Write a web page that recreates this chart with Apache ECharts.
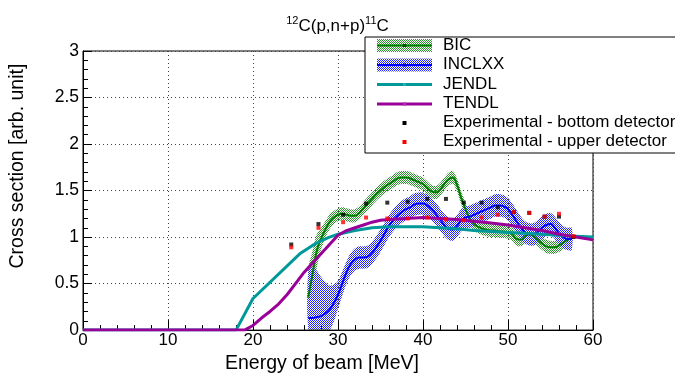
<!DOCTYPE html>
<html>
<head>
<meta charset="utf-8">
<script src="https://cdn.jsdelivr.net/npm/echarts@6/dist/echarts.min.js"></script>
<style>html,body{margin:0;padding:0;background:#fff;}#c{width:675px;height:379px;}</style>
</head>
<body>
<div id="c"></div>
<script>
// ---- data ----
var modelE = [26.5,27,27.5,28,28.5,29,29.5,30,30.5,31,31.5,32,32.5,33,33.5,34,34.5,35,35.5,36,36.5,37,37.5,38,38.5,39,39.5,40,40.5,41,41.5,42,42.5,43,43.5,44,44.5,45,45.5,46,46.5,47,47.5,48,48.5,49,49.5,50,50.5,51,51.5,52,52.5,53,53.5,54,54.5,55,55.5,56,56.5,57,57.5];
var bicV = [0.35,0.6,0.85,0.98,1.08,1.16,1.21,1.24,1.25,1.24,1.23,1.23,1.26,1.31,1.36,1.41,1.46,1.50,1.54,1.57,1.60,1.63,1.64,1.64,1.63,1.61,1.59,1.57,1.53,1.49,1.48,1.51,1.57,1.62,1.64,1.56,1.42,1.30,1.20,1.14,1.11,1.09,1.08,1.07,1.07,1.06,1.06,1.05,1.03,0.98,0.97,1.01,1.03,1.01,0.97,0.93,0.90,0.89,0.89,0.91,0.94,0.97,0.99];
var bicErr = [0.3,0.25,0.18,0.12,0.09,0.08,0.07,0.07,0.07,0.07,0.07,0.07,0.07,0.07,0.07,0.07,0.07,0.07,0.07,0.07,0.07,0.07,0.07,0.07,0.07,0.07,0.07,0.07,0.07,0.07,0.07,0.07,0.07,0.07,0.07,0.07,0.07,0.07,0.07,0.07,0.07,0.07,0.07,0.07,0.07,0.07,0.07,0.07,0.07,0.07,0.07,0.07,0.07,0.07,0.07,0.07,0.07,0.07,0.07,0.07,0.07,0.07,0.07];
var inclV = [0.13,0.13,0.14,0.15,0.18,0.22,0.29,0.38,0.50,0.62,0.71,0.76,0.78,0.78,0.79,0.83,0.89,0.96,1.04,1.12,1.18,1.23,1.27,1.30,1.32,1.35,1.36,1.36,1.34,1.30,1.25,1.19,1.13,1.09,1.08,1.12,1.18,1.21,1.22,1.24,1.26,1.28,1.30,1.32,1.34,1.34,1.33,1.30,1.24,1.17,1.10,1.05,1.03,1.03,1.06,1.10,1.13,1.14,1.10,1.04,1.00,0.98,0.98];
var inclErr = [0.5,0.55,0.5,0.42,0.34,0.26,0.2,0.15,0.13,0.12,0.12,0.12,0.12,0.12,0.12,0.12,0.12,0.12,0.12,0.12,0.12,0.12,0.12,0.12,0.12,0.12,0.12,0.12,0.12,0.12,0.12,0.12,0.12,0.12,0.12,0.12,0.12,0.12,0.12,0.12,0.12,0.12,0.12,0.12,0.12,0.12,0.12,0.12,0.12,0.12,0.12,0.12,0.12,0.12,0.12,0.12,0.12,0.12,0.12,0.12,0.12,0.12,0.12];
var jendlE = [0,18,20,25.5,26,27,28,29,30,32,34,36,38,40,42,44,46,48,50,52,54,56,58,60];
var jendlV = [0,0,0.34,0.82,0.85,0.91,0.96,1.0,1.03,1.07,1.10,1.11,1.11,1.11,1.10,1.09,1.07,1.06,1.05,1.04,1.03,1.02,1.01,1.0];
var tendlE = [0,19,20,21,22,23,24,25,26,27,28,29,30,31,32,33,34,35,36,38,40,42,44,46,48,50,52,54,56,58,60];
var tendlV = [0,0,0.05,0.13,0.2,0.28,0.38,0.5,0.62,0.72,0.82,0.92,1.02,1.07,1.1,1.13,1.16,1.18,1.19,1.2,1.21,1.2,1.19,1.17,1.15,1.13,1.1,1.07,1.03,1.0,0.97];
var expE = [24.5,27.7,30.6,33.3,35.8,38.2,40.5,42.7,44.8,46.9,48.8,50.7,52.5,54.3,56.0,57.7];
var expBottom = [0.92,1.14,1.24,1.36,1.37,1.38,1.41,1.41,1.37,1.37,1.32,1.27,1.26,1.22,1.22,1.00];
var expUpper = [0.89,1.10,1.16,1.21,1.20,1.20,1.21,1.19,1.18,1.21,1.24,1.27,1.26,1.22,1.25,1.01];
var xTicks = [0,10,20,30,40,50,60];
var yTicks = [0,0.5,1,1.5,2,2.5,3];
var legendNames = ['BIC','INCLXX','JENDL','TENDL','Experimental - bottom detector','Experimental - upper detector'];

// ---- helpers ----
function pattern(color){
  var c=document.createElement('canvas'); c.width=2; c.height=2;
  var g=c.getContext('2d'); g.fillStyle=color;
  g.fillRect(0,0,1,1); g.fillRect(1,1,1,1);
  return {image:c, repeat:'repeat'};
}
function zip(a,b){ return a.map(function(v,i){return [v,b[i]];}); }

var FONT='Liberation Sans';
var cGreen='#007a00', cBlue='#0000ff', cTeal='#009999', cPurple='#990099';
var patGreen=pattern('#2a922a'), patBlue=pattern('#2222ff');

function bandSeries(name, E, V, Er, pat, z){
  var data = E.map(function(e,i){ return [e, Math.max(0, V[i]-Er[i]), V[i]+Er[i]]; });
  return {
    type:'custom', name:name+'_band', data:data, clip:true, silent:true, z:z,
    encode:{x:0, y:[1,2]},
    renderItem:function(params, api){
      if (params.dataIndex !== 0) return null;
      var up=[], lo=[];
      for (var i=0;i<data.length;i++){
        up.push(api.coord([data[i][0], data[i][2]]));
        lo.push(api.coord([data[i][0], data[i][1]]));
      }
      var pts = up.concat(lo.reverse());
      return {type:'polygon', shape:{points:pts, smooth:0.35}, style:{fill:pat, stroke:null}};
    }
  };
}

var chart = echarts.init(document.getElementById('c'), null, {renderer:'canvas'});
var series = [
  bandSeries('BIC', modelE, bicV, bicErr, patGreen, 2),
  bandSeries('INCLXX', modelE, inclV, inclErr, patBlue, 3),
  {type:'line', name:'BIC', data:zip(modelE,bicV), smooth:true, symbol:'none', lineStyle:{color:cGreen,width:2}, z:4},
  {type:'line', name:'INCLXX', data:zip(modelE,inclV), smooth:true, symbol:'none', lineStyle:{color:cBlue,width:2}, z:4},
  {type:'line', name:'JENDL', data:zip(jendlE,jendlV), symbol:'none', lineStyle:{color:cTeal,width:3}, z:5},
  {type:'line', name:'TENDL', data:zip(tendlE,tendlV), symbol:'none', lineStyle:{color:cPurple,width:3}, z:6},
  {type:'scatter', name:'Experimental - bottom detector', data:zip(expE,expBottom), symbol:'rect', symbolSize:4, itemStyle:{color:'#000'}, z:7},
  {type:'scatter', name:'Experimental - upper detector', data:zip(expE,expUpper), symbol:'rect', symbolSize:4, itemStyle:{color:'#ff0000'}, z:8}
];

// legend drawn as graphic
var lx=377, lw=55, tx=443;
var rows=[45,64.5,84,103.5,122.5,141.5];
var g=[{type:'rect', shape:{x:365,y:37,width:330,height:116}, style:{fill:'#fff', stroke:'#000', lineWidth:1}, z:100}];
g.push({type:'rect', shape:{x:lx,y:rows[0]-6,width:lw,height:13}, style:{fill:patGreen}, z:101});
g.push({type:'line', shape:{x1:lx,y1:rows[0]+0.5,x2:lx+lw,y2:rows[0]+0.5}, style:{stroke:cGreen,lineWidth:2}, z:102});
g.push({type:'rect', shape:{x:lx,y:rows[1]-6,width:lw,height:13}, style:{fill:patBlue}, z:101});
g.push({type:'line', shape:{x1:lx,y1:rows[1]+0.5,x2:lx+lw,y2:rows[1]+0.5}, style:{stroke:cBlue,lineWidth:2}, z:102});
g.push({type:'line', shape:{x1:lx,y1:rows[2]+0.5,x2:lx+lw,y2:rows[2]+0.5}, style:{stroke:cTeal,lineWidth:3}, z:102});
g.push({type:'line', shape:{x1:lx,y1:rows[3]+0.5,x2:lx+lw,y2:rows[3]+0.5}, style:{stroke:cPurple,lineWidth:3}, z:102});
var sq=['#004d00','#0000aa','#33aaaa','#aa33aa','#000','#ff0000'];
for (var i=0;i<6;i++){
  var s = i<4?3:4;
  g.push({type:'rect', shape:{x:lx+lw/2-s/2, y:rows[i]+0.5-s/2, width:s, height:s}, style:{fill:sq[i]}, z:103});
  g.push({type:'text', x:tx, y:rows[i], style:{text:legendNames[i], font:'17px "'+FONT+'"', fill:'#000', textVerticalAlign:'middle', verticalAlign:'middle'}, z:103});
}

chart.setOption({
  animation:false,
  backgroundColor:'#fff',
  title:{
    text:'{s|12}{m|C(p,n+p)}{s|11}{m|C}',
    left:'center', top:10,
    textStyle:{fontWeight:'normal', rich:{
      s:{fontSize:11, fontFamily:FONT, fontWeight:'normal', color:'#000', verticalAlign:'top', lineHeight:11},
      m:{fontSize:17, fontFamily:FONT, fontWeight:'normal', color:'#000', verticalAlign:'bottom', lineHeight:20}
    }}
  },
  grid:{left:83, right:82, top:51, bottom:47, show:true, borderColor:'#000', borderWidth:1, backgroundColor:'transparent'},
  xAxis:{
    type:'value', min:xTicks[0], max:xTicks[xTicks.length-1], interval:10,
    name:'Energy of beam [MeV]', nameLocation:'middle', nameGap:21,
    nameTextStyle:{fontFamily:FONT, fontSize:19.5, color:'#000', padding:[0,32,0,0], verticalAlign:'top'},
    axisLine:{lineStyle:{color:'#000',width:1}},
    axisTick:{inside:true, length:10, lineStyle:{color:'#000'}},
    minorTick:{show:true, splitNumber:5, length:5, lineStyle:{color:'#000'}},
    axisLabel:{fontFamily:FONT, fontSize:17, color:'#000', margin:2},
    splitLine:{show:true, lineStyle:{color:'#444', type:[1,3], width:1}}
  },
  yAxis:{
    type:'value', min:yTicks[0], max:yTicks[yTicks.length-1], interval:0.5,
    name:'Cross section [arb. unit]', nameLocation:'middle', nameGap:55,
    nameTextStyle:{fontFamily:FONT, fontSize:19.5, color:'#000', padding:[0,0,0,49]},
    axisLine:{lineStyle:{color:'#000',width:1}},
    axisTick:{inside:true, length:9, lineStyle:{color:'#000'}},
    minorTick:{show:true, splitNumber:5, length:5, lineStyle:{color:'#000'}},
    axisLabel:{fontFamily:FONT, fontSize:17.5, color:'#000', margin:4},
    splitLine:{show:true, lineStyle:{color:'#444', type:[1,3], width:1}}
  },
  series:series,
  graphic:g
});
</script>
</body>
</html>
